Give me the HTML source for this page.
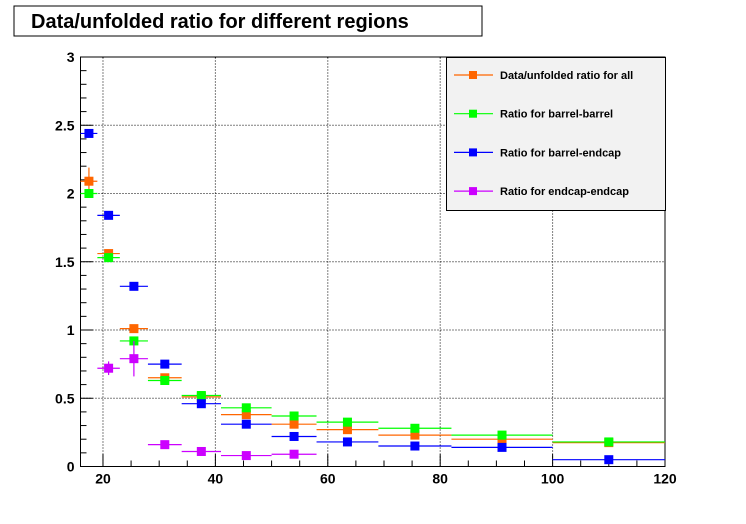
<!DOCTYPE html>
<html><head><meta charset="utf-8"><style>
body{margin:0;background:#fff;}
svg{display:block;font-family:"Liberation Sans",Arial,sans-serif;}
</style></head><body>
<svg id="c" width="746" height="524">
<rect x="0" y="0" width="746" height="524" fill="#fff"/>
<g id="grid"></g><g id="axes"></g><g id="marks"></g>
<rect x="14" y="6" width="468" height="30" fill="#fff" stroke="#000" stroke-width="1"/>
<text x="31" y="28" font-size="20" font-weight="bold">Data/unfolded ratio for different regions</text>
<g id="legend">
<rect x="446.5" y="57.5" width="219" height="153" fill="#f2f2f2" stroke="#000"/>
</g>
</svg>
<script>
const binEdges=[16,19,23,28,34,41,50,58,69,82,100,120];
const seriesNames=["Data/unfolded ratio for all","Ratio for barrel-barrel","Ratio for barrel-endcap","Ratio for endcap-endcap"];
const seriesColors=["#ff6600","#00ff00","#0000ff","#cc00ff"];
const allVals=[2.09,1.56,1.01,0.65,0.51,0.38,0.31,0.27,0.23,0.20,0.175];
const bbVals=[2.0,1.53,0.92,0.63,0.52,0.43,0.37,0.325,0.28,0.23,0.18];
const beVals=[2.44,1.84,1.32,0.75,0.46,0.31,0.22,0.18,0.15,0.14,0.05];
const eeVals=[null,0.72,0.79,0.16,0.11,0.08,0.09,null,null,null,null];
const allErr=[0.1,0.02,0.02,0.02,0.02,0.02,0.02,0.02,0.02,0.02,0.02];
const bbErr=[0.02,0.02,0.02,0.02,0.02,0.02,0.02,0.02,0.02,0.02,0.02];
const beErr=[0.02,0.02,0.02,0.02,0.02,0.02,0.02,0.02,0.02,0.02,0.03];
const eeErr=[0,0.05,0.13,0.02,0.02,0.02,0.03,0,0,0,0];
const xTicks=[20,40,60,80,100,120];
const yTicks=[0,0.5,1,1.5,2,2.5,3];
const yTickLabels=["0","0.5","1","1.5","2","2.5","3"];
const X0=80.5,X1=665,Y0=466.5,Y1=57,XMIN=16,XMAX=120,YMAX=3;
const sx=v=>X0+(v-XMIN)/(XMAX-XMIN)*(X1-X0);
const sy=v=>Y0-v/YMAX*(Y0-Y1);
const NS="http://www.w3.org/2000/svg";
function mk(t,a,p){const e=document.createElementNS(NS,t);for(const k in a)e.setAttribute(k,a[k]);p.appendChild(e);return e;}
const grid=document.getElementById('grid'),axes=document.getElementById('axes'),marks=document.getElementById('marks');
xTicks.forEach(v=>{if(v<XMAX){const l=mk('line',{x1:sx(v),x2:sx(v),y1:Y0,y2:Y1,stroke:'#000','stroke-dasharray':'1,2'},grid);

}});
yTicks.forEach(v=>{if(v>0&&v<YMAX){const l=mk('line',{x1:X0,x2:X1,y1:sy(v),y2:sy(v),stroke:'#000','stroke-dasharray':'1,2'},grid);

}});
const fr=mk('rect',{x:X0,y:Y1,width:X1-X0,height:Y0-Y1,fill:'none',stroke:'#000'},axes);


for(let v=20;v<=XMAX;v+=5){const maj=v%20===0;mk('line',{x1:sx(v),x2:sx(v),y1:Y0,y2:Y0-(maj?12:6),stroke:'#000'},axes);}
for(let i=0;i<=30;i++){const v=i/10;const maj=i%5===0;mk('line',{x1:X0,x2:X0+(maj?12:6),y1:sy(v),y2:sy(v),stroke:'#000'},axes);}
xTicks.forEach(v=>{const t=mk('text',{x:sx(v),y:Y0+17,'font-size':14,'font-weight':'bold','text-anchor':'middle'},axes);t.textContent=v;

});
yTicks.forEach((v,i)=>{const t=mk('text',{x:X0-6,y:sy(v)+5,'font-size':14,'font-weight':'bold','text-anchor':'end'},axes);t.textContent=yTickLabels[i];

});
const allSeries=[allVals,bbVals,beVals,eeVals],allErrs=[allErr,bbErr,beErr,eeErr];
allSeries.forEach((vals,s)=>{const c=seriesColors[s];const g=mk('g',{},marks);


vals.forEach((v,i)=>{if(v===null)return;const a=binEdges[i],b=binEdges[i+1],m=(a+b)/2;
mk('line',{x1:sx(a),x2:sx(b),y1:sy(v),y2:sy(v),stroke:c,'stroke-width':1.2},g);
const e=allErrs[s][i];if(e>0)mk('line',{x1:sx(m),x2:sx(m),y1:sy(v+e),y2:sy(v-e),stroke:c,'stroke-width':1.2},g);
const r=mk('rect',{x:sx(m)-4.5,y:sy(v)-4.5,width:9,height:9,fill:c},g);

});});
const leg=document.getElementById('legend');
seriesNames.forEach((n,i)=>{const y=75+i*38.7;
mk('line',{x1:454,x2:493,y1:y,y2:y,stroke:seriesColors[i],'stroke-width':1.2},leg);
mk('rect',{x:469,y:y-4,width:8,height:8,fill:seriesColors[i]},leg);
const t=mk('text',{x:500,y:y+4,'font-size':11,'font-weight':'bold'},leg);t.textContent=n;

});
</script>
</body></html>
